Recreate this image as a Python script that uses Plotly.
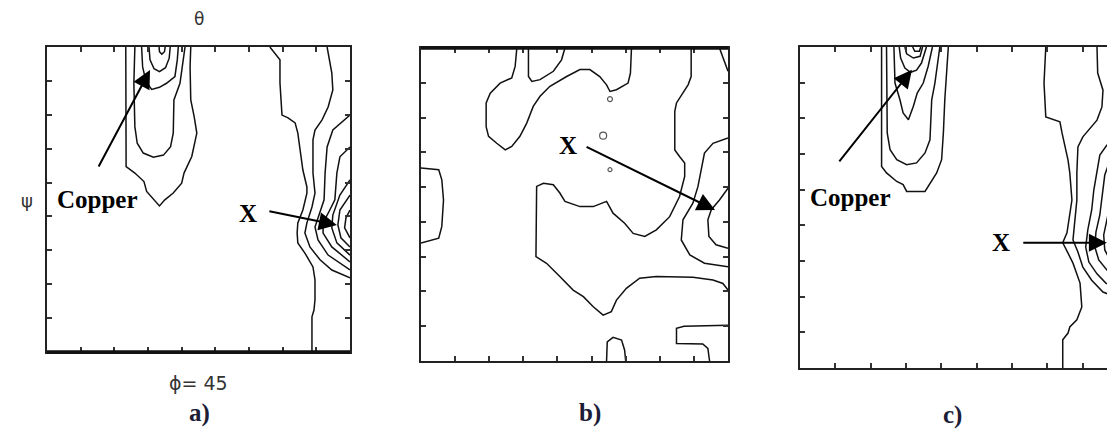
import plotly.graph_objects as go

# ODF sections, theta across (0-90), psi down (0-90); contour lines

# a) copper peak, outer to inner
A_COPPER = [
    ([23.4, 23.4, 23.3, 23.5, 26.1, 28.8, 29.6, 32.1, 33.4, 35.0, 37.5, 40.0, 40.7, 43.0, 44.5, 43.7, 42.7, 42.5, 42.7],
     [0, 15.6, 28.4, 35.3, 37.2, 39.7, 42.6, 45.6, 46.9, 45.1, 43.1, 40.2, 37.2, 32.3, 25.4, 20.5, 15.6, 5.8, 0]),
    ([26.1, 25.8, 26.1, 26.8, 28.6, 31.6, 34.6, 36.7, 37.5, 37.7, 39.5, 41.0],
     [0, 10.7, 23.5, 28.4, 31.3, 32.5, 31.9, 29.4, 25.4, 15.6, 10.7, 0]),
    ([28.1, 28.4, 29.4, 31.1, 33.4, 35.5, 38.0, 38.7, 39.0],
     [0, 5.8, 10.2, 12.5, 11.9, 10.7, 8.7, 3.8, 0]),
    ([30.3, 30.6, 31.8, 33.4, 35.2, 36.3, 36.6],
     [0, 3.8, 6.4, 7.3, 6.1, 3.3, 0]),
    ([33.3, 33.4, 34.1, 34.9, 35.1],
     [0, 1.4, 2.1, 1.4, 0]),
]

# a) X peak on the right edge
A_X = [
    ([66.2, 69.2, 69.2, 69.8, 71.6, 73.7, 74.5, 75.1, 76.0, 77.2, 77.2, 76.0, 74.5, 74.3, 74.5, 76.6, 79.0, 79.6, 79.6, 79.3, 78.7, 78.7, 78.7],
     [0, 3.8, 10.6, 20.1, 20.9, 22.4, 25.4, 30.4, 36.3, 41.3, 43.1, 48.1, 51.9, 54.9, 57.8, 60.8, 64.9, 68.7, 74.6, 77.6, 79.6, 83.5, 90]),
    ([83.2, 84.6, 84.9, 83.5, 81.7, 79.6, 79.0, 79.0, 79.6, 78.7, 77.2, 76.6, 78.1, 81.1, 84.6, 90],
     [0, 7.7, 12.7, 17.7, 21.5, 24.5, 27.4, 37.2, 43.1, 47.2, 51.9, 54.9, 59.0, 62.8, 65.8, 68.1]),
    ([90, 84.9, 83.2, 82.6, 82.3, 80.5, 79.6, 80.5, 83.5, 90],
     [20.1, 24.5, 29.5, 37.2, 45.1, 50.1, 53.1, 56.9, 61.4, 65.8]),
    ([90, 87.0, 86.1, 85.5, 84.0, 82.0, 82.0, 84.6, 90],
     [29.5, 32.4, 37.2, 45.1, 48.1, 51.9, 54.9, 59.0, 63.4]),
    ([90, 87.0, 84.9, 84.6, 86.1, 90],
     [39.2, 43.7, 49.6, 53.4, 57.8, 61.4]),
    ([90, 87.0, 86.4, 87.3, 90],
     [43.7, 48.1, 52.5, 56.3, 59.0]),
    ([90, 88.8, 88.4, 90],
     [48.1, 50.4, 53.4, 56.3]),
]

# b) all contour lines
B_LINES = [
    ([28.1, 27.6, 26.6, 23.2, 20.3, 19.1, 19.1, 19.8, 22.2, 24.7, 26.6, 29.0, 31.0, 32.9, 34.9, 37.8, 42.7, 46.6, 49.5, 52.4, 54.4, 55.4, 57.3, 59.3, 60.7, 61.4, 61.7],
     [0, 5.3, 8.6, 10.1, 13.0, 15.8, 22.6, 25.4, 27.4, 29.3, 28.3, 25.4, 21.6, 16.8, 13.9, 11.0, 8.2, 6.2, 6.2, 8.2, 10.6, 12.5, 12.0, 11.0, 10.1, 7.2, 0]),
    ([31.5, 31.5, 32.5, 34.9, 38.8, 41.2, 42.2],
     [0, 8.2, 9.6, 9.1, 6.7, 3.4, 0]),
    ([0, 5.2, 6.1, 6.6, 6.1, 5.2, 0],
     [34.5, 35.0, 37.9, 43.7, 51.3, 54.7, 56.1]),
    ([79.2, 79.2, 78.3, 74.9, 74.4, 74.4, 75.8, 77.3, 77.3, 75.8, 72.9, 69.0, 65.6, 62.2, 59.7, 56.3, 54.4, 50.5, 46.6, 42.2, 40.7, 38.8, 35.9, 33.9, 33.7, 36.8, 40.7, 44.6, 47.6, 50.5, 53.4, 55.8, 57.3, 60.2, 64.1, 69.0, 79.7, 85.6, 88.5, 90],
     [0, 8.2, 10.6, 15.8, 18.2, 29.3, 31.2, 33.1, 36.9, 42.7, 48.5, 52.3, 54.2, 53.3, 50.4, 47.5, 44.1, 45.6, 45.6, 44.1, 41.7, 39.3, 38.9, 39.8, 60.0, 61.9, 65.7, 69.6, 71.5, 74.4, 76.8, 75.8, 72.5, 69.1, 66.2, 65.7, 65.9, 66.7, 67.7, 69.6]),
    ([90, 85.6, 83.1, 82.2, 81.2, 79.7, 76.8, 76.3, 78.8, 83.1, 90],
     [25.9, 27.4, 30.2, 35.0, 39.8, 44.6, 49.4, 55.2, 59.5, 61.9, 62.9]),
    ([90, 87.5, 85.1, 84.1, 84.4, 86.5, 90],
     [40.3, 43.7, 46.5, 49.4, 54.2, 56.6, 57.6]),
    ([87.5, 89.5, 90],
     [0, 5.3, 6.7]),
    ([54.4, 54.6, 56.3, 58.8, 59.7, 60.0],
     [90, 84.5, 83.2, 84.0, 86.9, 90]),
    ([90, 77.1, 74.9, 74.9, 82.6, 84.1, 84.6],
     [79.7, 80.0, 80.6, 85.0, 85.1, 86.4, 90]),
]
B_SPOT_THETA = [55.4, 53.4, 55.4]
B_SPOT_PSI = [14.7, 25.2, 35.0]
B_SPOT_SIZE = [5, 7, 4]

# c) copper peak, outer to inner
C_COPPER = [
    ([23.1, 23.1, 24.5, 27.4, 29.2, 30.2, 35.4, 37.3, 38.7, 40.1, 40.6, 41.0, 42.0],
     [0, 33.5, 35.3, 37.7, 38.6, 40.5, 40.5, 37.7, 35.3, 31.6, 24.1, 14.8, 0]),
    ([24.5, 24.7, 25.5, 27.4, 30.2, 33.0, 35.4, 36.8, 37.3, 38.2, 39.6],
     [0, 24.1, 28.8, 31.6, 33.0, 32.5, 29.7, 26.0, 14.8, 10.1, 0]),
    ([26.6, 26.9, 28.3, 29.2, 30.7, 32.1, 33.2, 34.9, 36.3, 37.5],
     [0, 10.1, 14.8, 18.5, 20.4, 16.6, 12.9, 10.1, 5.4, 0]),
    ([28.1, 28.5, 29.7, 31.3, 33.0, 34.4, 35.8],
     [0, 3.1, 5.9, 7.1, 6.5, 4.5, 0]),
    ([29.7, 30.2, 32.1, 34.0, 34.7],
     [0, 1.9, 3.1, 2.6, 0]),
    ([31.9, 32.5, 33.8, 34.2],
     [0, 1.2, 1.2, 0]),
]

# c) X peak, cut by the right edge of the picture
C_X = [
    ([69.6, 69.1, 69.6, 73.6, 74.2, 75.9, 76.4, 77.0, 75.6, 74.4, 75.9, 77.3, 79.3, 79.8, 78.4, 76.4, 75.9, 74.4, 74.4],
     [0, 10.1, 19.6, 21.0, 24.1, 31.7, 35.3, 42.9, 52.1, 54.9, 57.8, 60.6, 66.2, 72.9, 76.5, 78.5, 80.2, 82.1, 90]),
    ([84.1, 84.3, 85.8, 85.5, 84.1, 82.1, 80.1, 78.7, 78.4, 78.4, 77.8, 77.3, 78.7, 80.1, 82.6, 85.8, 90],
     [0, 7.3, 12.1, 16.8, 20.5, 22.7, 25.2, 28.0, 35.3, 42.9, 49.9, 54.1, 57.5, 61.7, 65.4, 68.7, 70.4]),
    ([90, 86.9, 84.9, 84.1, 83.2, 82.6, 81.5, 80.9, 81.8, 84.1, 86.6, 90],
     [26.1, 27.5, 30.3, 34.5, 40.1, 45.7, 51.3, 56.1, 60.3, 63.6, 66.2, 67.6]),
    ([90, 87.8, 86.3, 85.5, 84.9, 83.8, 83.5, 84.6, 86.9, 90],
     [30.3, 31.7, 35.9, 41.5, 47.1, 51.9, 56.1, 59.7, 62.5, 64.5]),
    ([90, 88.4, 87.2, 86.0, 86.3, 87.8, 90],
     [38.7, 41.5, 47.1, 52.7, 56.9, 59.7, 61.4]),
    ([90, 88.4, 87.8, 88.6, 90],
     [47.1, 49.9, 54.1, 57.5, 58.6]),
]

# page body keeps an 8px margin, so the figure is a bit smaller and shifted
OFF = 8
W, H = 1115 - OFF, 434 - OFF
LINE = '#111111'
SERIF = 'Liberation Serif'

fig = go.Figure()


def add_lines(lines, xa, ya):
    for th, ps in lines:
        fig.add_trace(go.Scatter(x=th, y=ps, mode='lines', xaxis=xa, yaxis=ya,
                                 line=dict(color=LINE, width=1.5),
                                 showlegend=False, hoverinfo='skip'))


add_lines(A_COPPER, 'x', 'y')
add_lines(A_X, 'x', 'y')
add_lines(B_LINES, 'x2', 'y2')
add_lines(C_COPPER, 'x3', 'y3')
add_lines(C_X, 'x3', 'y3')

fig.add_trace(go.Scatter(x=B_SPOT_THETA, y=B_SPOT_PSI, mode='markers', xaxis='x2', yaxis='y2',
                         marker=dict(symbol='circle-open', size=B_SPOT_SIZE, color=LINE,
                                     line=dict(width=1.2)),
                         showlegend=False, hoverinfo='skip'))


# window pixel -> paper fraction
def px_x(p):
    return (p - OFF) / W


def px_y(p):
    return 1 - (p - OFF) / H


axis_common = dict(showline=True, linewidth=2, linecolor='#222222', ticks='inside',
                   ticklen=5, tickwidth=1.5, tickcolor='#333333', dtick=10, tick0=0,
                   showticklabels=False, showgrid=False, zeroline=False)

fig.update_layout(
    width=W, height=H,
    margin=dict(l=0, r=0, t=0, b=0),
    paper_bgcolor='white', plot_bgcolor='white',
    xaxis=dict(domain=[px_x(47), px_x(350)], range=[0, 90], anchor='y', mirror='ticks', **axis_common),
    yaxis=dict(domain=[px_y(352), px_y(47)], range=[90, 0], anchor='x', mirror='ticks', **axis_common),
    xaxis2=dict(domain=[px_x(421), px_x(728)], range=[0, 90], anchor='y2', mirror='ticks', **axis_common),
    yaxis2=dict(domain=[px_y(361), px_y(48)], range=[90, 0], anchor='x2', mirror='ticks', **axis_common),
    xaxis3=dict(domain=[px_x(800), 1.0], range=[0, 89.2], anchor='y3', mirror='ticks', **axis_common),
    yaxis3=dict(domain=[px_y(368), px_y(47)], range=[90, 0], anchor='x3', mirror=False, **axis_common),
)

# heavier frame edges
fig.add_shape(type='line', xref='x domain', yref='y domain', x0=0, x1=1, y0=0, y1=0,
              line=dict(color='#111111', width=3.5))
fig.add_shape(type='line', xref='x2 domain', yref='y2 domain', x0=0, x1=1, y0=1, y1=1,
              line=dict(color='#111111', width=3.5))

# arrows (head, tail) in data coordinates
arrows = [
    ('x', 'y', 30.6, 6.8, 15.1, 35.7),
    ('x', 'y', 86.1, 52.5, 65.6, 48.4),
    ('x2', 'y2', 86.2, 46.6, 48.1, 28.2),
    ('x3', 'y3', 31.7, 6.4, 10.8, 32.5),
    ('x3', 'y3', 86.9, 54.9, 62.8, 54.9),
]
for xr, yr, hx, hy, tx, ty in arrows:
    fig.add_annotation(x=hx, y=hy, ax=tx, ay=ty, xref=xr, yref=yr, axref=xr, ayref=yr,
                       text='', showarrow=True, arrowhead=2, arrowsize=1.8,
                       arrowwidth=2, arrowcolor='black')

labels = [
    ('x', 'y', 14.9, 45.1, 'Copper'),
    ('x', 'y', 59.7, 49.0, 'X'),
    ('x2', 'y2', 43.1, 27.9, 'X'),
    ('x3', 'y3', 14.4, 42.1, 'Copper'),
    ('x3', 'y3', 56.9, 54.9, 'X'),
]
for xr, yr, lx, ly, txt in labels:
    fig.add_annotation(x=lx, y=ly, xref=xr, yref=yr, text='<b>%s</b>' % txt, showarrow=False,
                       font=dict(family=SERIF, size=25, color='black'))

# axis names and panel letters
paper_text = [
    (199, 19, 'θ', dict(family='DejaVu Sans', size=17, color='#333333')),
    (27, 200, 'ψ', dict(family='DejaVu Sans', size=18, color='#333333')),
    (198, 383, 'ϕ= 45', dict(family='DejaVu Sans', size=19, color='#333333')),
    (199, 413, '<b>a)</b>', dict(family=SERIF, size=25, color='#1c1c38')),
    (590, 413, '<b>b)</b>', dict(family=SERIF, size=25, color='#1c1c38')),
    (952, 415, '<b>c)</b>', dict(family=SERIF, size=25, color='#1c1c38')),
]
for x, y, txt, f in paper_text:
    fig.add_annotation(x=px_x(x), y=px_y(y), xref='paper', yref='paper', text=txt,
                       showarrow=False, font=f, xanchor='center', yanchor='middle')

fig.write_html("out.html")
